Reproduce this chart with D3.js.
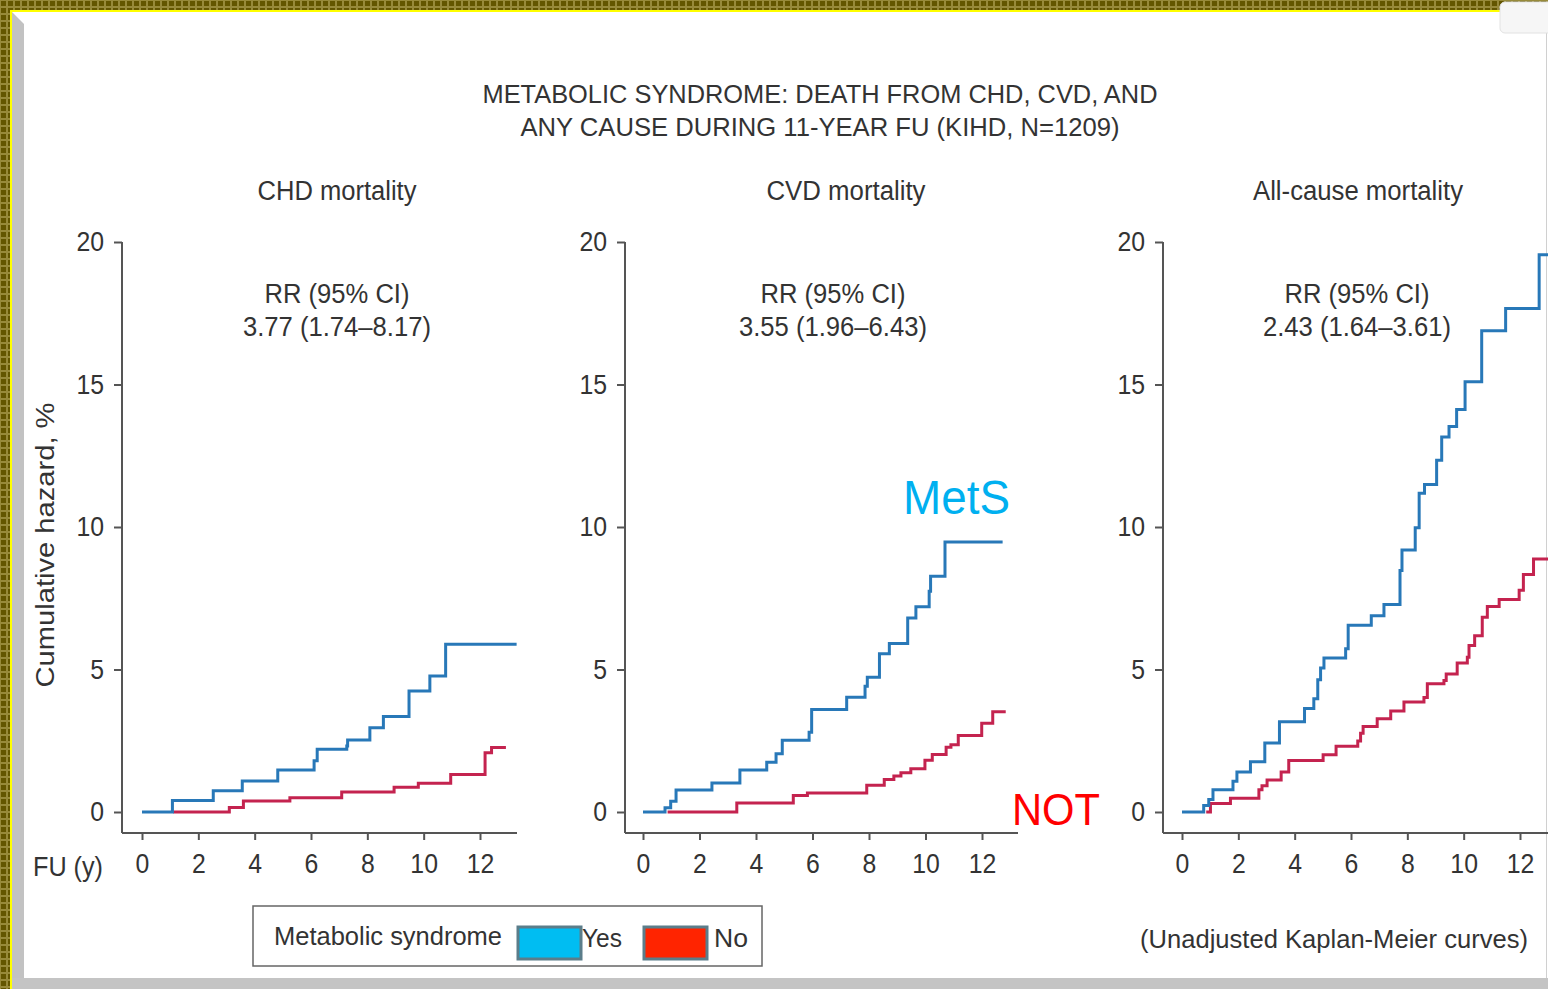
<!DOCTYPE html>
<html>
<head>
<meta charset="utf-8">
<script src="https://cdn.jsdelivr.net/npm/d3@7"></script>
<style>
  body { margin: 0; background: #fff; }
  svg { display: block; font-family: "Liberation Sans", Arial, sans-serif; }
</style>
</head>
<body>
<svg id="chart" width="1548" height="989"></svg>
<script>
// step data: [years, cumulative hazard %]
var chdYes = [[0,0],[1.08,0.40],[2.53,0.75],[3.56,1.09],[4.82,1.47],[6.11,1.80],[6.22,2.20],[7.27,2.32],[7.30,2.53],[8.09,2.96],[8.57,3.35],[9.48,4.25],[10.22,4.77],[10.78,5.89],[13.3,5.89]];
var chdNo = [[1.11,0],[3.10,0.16],[3.60,0.39],[5.25,0.50],[7.09,0.70],[8.95,0.87],[9.81,1.01],[10.96,1.32],[12.18,2.08],[12.41,2.26],[12.92,2.26]];
var cvdYes = [[0,0],[0.78,0.15],[0.98,0.38],[1.17,0.77],[2.44,1.02],[3.43,1.47],[4.38,1.75],[4.71,2.04],[4.93,2.52],[5.88,2.80],[5.97,3.60],[7.21,4.03],[7.86,4.41],[7.94,4.73],[8.37,5.55],[8.72,5.91],[9.37,6.81],[9.66,7.20],[10.13,7.75],[10.18,8.27],[10.69,9.47],[12.73,9.47]];
var cvdNo = [[0.87,0],[3.32,0.32],[5.32,0.58],[5.82,0.67],[7.92,0.94],[8.54,1.14],[8.88,1.26],[9.13,1.38],[9.48,1.52],[9.98,1.82],[10.24,2.02],[10.73,2.27],[10.90,2.36],[11.16,2.68],[11.99,3.11],[12.38,3.52],[12.84,3.52]];
var allYes = [[0,0],[0.77,0.23],[0.95,0.44],[1.10,0.78],[1.81,1.08],[1.95,1.40],[2.43,1.76],[2.94,2.42],[3.46,3.17],[4.35,3.63],[4.68,3.97],[4.82,4.64],[4.92,5.05],[5.04,5.40],[5.81,5.73],[5.90,6.55],[6.72,6.89],[7.17,7.28],[7.74,8.47],[7.81,9.19],[8.28,9.97],[8.42,11.18],[8.61,11.49],[9.04,12.34],[9.22,13.16],[9.48,13.53],[9.75,14.12],[10.05,15.10],[10.64,16.89],[11.49,17.67],[12.68,19.55],[13.5,19.55]];
var allNo = [[0.86,0],[1.01,0.30],[1.72,0.48],[2.73,0.78],[2.84,0.92],[3.02,1.12],[3.52,1.40],[3.79,1.81],[5.01,2.01],[5.47,2.31],[6.24,2.49],[6.34,2.76],[6.43,3.00],[6.93,3.27],[7.41,3.54],[7.88,3.86],[8.59,4.02],[8.71,4.50],[9.30,4.61],[9.38,4.84],[9.77,5.23],[10.13,5.43],[10.19,5.84],[10.39,6.18],[10.66,6.83],[10.84,7.21],[11.26,7.46],[11.97,7.78],[12.12,8.33],[12.48,8.88],[13.5,8.88]];

var panelTitles = ["CHD mortality", "CVD mortality", "All-cause mortality"];
var rrValues = ["3.77 (1.74\u20138.17)", "3.55 (1.96\u20136.43)", "2.43 (1.64\u20133.61)"];
var xTicks = [0, 2, 4, 6, 8, 10, 12];
var yTicks = [0, 5, 10, 15, 20];

var svg = d3.select("#chart");
var ink = "#333";
var blue = "#2878b8", red = "#c4234f";

// frame of the screenshot
var defs = svg.append("defs");
var pat = defs.append("pattern").attr("id", "olive").attr("width", 7).attr("height", 7)
    .attr("patternUnits", "userSpaceOnUse");
pat.append("rect").attr("width", 7).attr("height", 7).attr("fill", "#978a3a");
pat.append("rect").attr("x", 1).attr("y", 1).attr("width", 5).attr("height", 5).attr("fill", "#635600");
svg.append("rect").attr("width", 1548).attr("height", 10).attr("fill", "url(#olive)");
svg.append("rect").attr("width", 10).attr("height", 989).attr("fill", "url(#olive)");
svg.append("rect").attr("x", 10).attr("y", 10).attr("width", 1538).attr("height", 2).attr("fill", "#ffff00");
svg.append("rect").attr("x", 10).attr("y", 10).attr("width", 2).attr("height", 979).attr("fill", "#ffff00");
svg.append("polygon").attr("points", "12,12 24,24 24,978 12,989").attr("fill", "#c2c2c2");
svg.append("rect").attr("x", 12).attr("y", 978).attr("width", 1536).attr("height", 11).attr("fill", "#c4c4c4");
svg.append("line").attr("x1", 1546.5).attr("x2", 1546.5).attr("y1", 12).attr("y2", 978)
    .attr("stroke", "#d0d0d0").attr("stroke-width", 1);
svg.append("rect").attr("x", 1500).attr("y", 2).attr("width", 60).attr("height", 31).attr("rx", 5)
    .attr("fill", "#f6f6f6").attr("stroke", "#e2e2e2");

function txt(x, y, s, size, len, anchor) {
    var t = svg.append("text").attr("x", x).attr("y", y).attr("fill", ink)
        .attr("font-size", size).attr("text-anchor", anchor || "middle").text(s);
    if (len) t.attr("textLength", len).attr("lengthAdjust", "spacingAndGlyphs");
    return t;
}

// title
txt(820, 103, "METABOLIC SYNDROME: DEATH FROM CHD, CVD, AND", 26, 675);
txt(820, 136, "ANY CAUSE DURING 11-YEAR FU (KIHD, N=1209)", 26, 599);

// panels layout
var panels = [
    { name: "chd", axisX: 122, x0: 142, x12: 480, end: 517, yes: chdYes, no: chdNo, tx: 337, rx: 337, tl: 159 },
    { name: "cvd", axisX: 625, x0: 643, x12: 982, end: 1018, yes: cvdYes, no: cvdNo, tx: 846, rx: 833, tl: 159 },
    { name: "all", axisX: 1163, x0: 1182, x12: 1520, end: 1570, yes: allYes, no: allNo, tx: 1358, rx: 1357, tl: 210 }
];
var yTop = 242, yZero = 812, yBottom = 833;

panels.forEach(function(p, i) {
    var x = d3.scaleLinear().domain([0, 12]).range([p.x0, p.x12]);
    var y = d3.scaleLinear().domain([0, 20]).range([yZero, yTop]);
    var g = svg.append("g");

    txt(p.tx, 200, panelTitles[i], 27, p.tl);
    txt(p.rx, 303, "RR (95% CI)", 27, 145);
    txt(p.rx, 336, rrValues[i], 27, 188);

    // spines
    g.append("line").attr("x1", p.axisX).attr("x2", p.axisX).attr("y1", yTop).attr("y2", yBottom)
        .attr("stroke", "#555").attr("stroke-width", 2);
    g.append("line").attr("x1", p.axisX).attr("x2", p.end).attr("y1", yBottom).attr("y2", yBottom)
        .attr("stroke", "#555").attr("stroke-width", 2);

    var ya = g.append("g").attr("transform", "translate(" + p.axisX + ",0)")
        .call(d3.axisLeft(y).tickValues(yTicks).tickSize(8).tickPadding(10));
    var xa = g.append("g").attr("transform", "translate(0," + yBottom + ")")
        .call(d3.axisBottom(x).tickValues(xTicks).tickSize(7).tickPadding(14));
    [ya, xa].forEach(function(a) {
        a.select(".domain").remove();
        a.selectAll("line").attr("stroke", "#555").attr("stroke-width", 2);
        a.selectAll("text").attr("fill", ink).attr("font-size", 27)
            .attr("font-family", "Liberation Sans, Arial, sans-serif")
            .attr("textLength", function(d) { return String(d).length * 13.8; })
            .attr("lengthAdjust", "spacingAndGlyphs");
    });

    var line = d3.line().x(function(d) { return x(d[0]); }).y(function(d) { return y(d[1]); })
        .curve(d3.curveStepAfter);
    g.append("path").datum(p.no).attr("d", line).attr("fill", "none")
        .attr("stroke", red).attr("stroke-width", 3);
    g.append("path").datum(p.yes).attr("d", line).attr("fill", "none")
        .attr("stroke", blue).attr("stroke-width", 3);
});

// y label and x label
txt(0, 0, "Cumulative hazard, %", 26, 285)
    .attr("transform", "translate(54,545) rotate(-90)");
txt(33, 876, "FU (y)", 27, 70, "start");

// annotations
svg.append("text").attr("x", 903).attr("y", 514).attr("font-size", 48).attr("fill", "#00b0f0")
    .attr("textLength", 107).attr("lengthAdjust", "spacingAndGlyphs").text("MetS");
svg.append("text").attr("x", 1012).attr("y", 825).attr("font-size", 45).attr("fill", "#ff0000")
    .attr("textLength", 88).attr("lengthAdjust", "spacingAndGlyphs").text("NOT");

// legend
svg.append("rect").attr("x", 253).attr("y", 906).attr("width", 509).attr("height", 60)
    .attr("fill", "#fff").attr("stroke", "#666").attr("stroke-width", 1.5);
txt(274, 945, "Metabolic syndrome", 26, 228, "start");
svg.append("rect").attr("x", 518).attr("y", 927).attr("width", 63).attr("height", 32)
    .attr("fill", "#00bdf2").attr("stroke", "#5b7d8a").attr("stroke-width", 3);
txt(582, 947, "Yes", 26, 40, "start");
svg.append("rect").attr("x", 644).attr("y", 927).attr("width", 63).attr("height", 32)
    .attr("fill", "#ff2400").attr("stroke", "#5b7d8a").attr("stroke-width", 3);
txt(714, 947, "No", 26, 34, "start");

txt(1334, 948, "(Unadjusted Kaplan-Meier curves)", 26, 388);
</script>
</body>
</html>
